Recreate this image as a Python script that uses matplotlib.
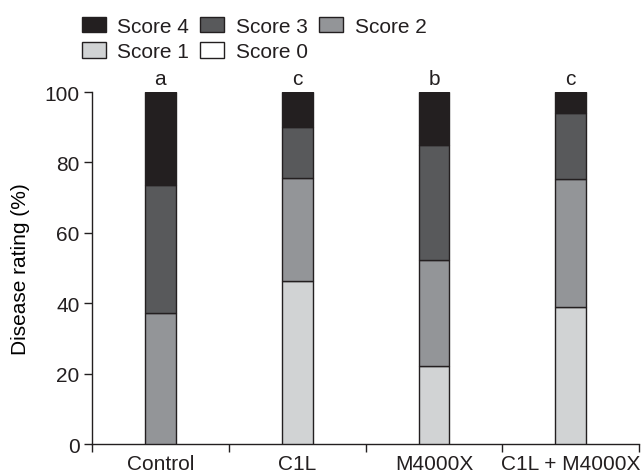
import matplotlib; matplotlib.use("Agg")
import matplotlib.pyplot as plt
from matplotlib.patches import Patch

# data (stacked % per score)
groups = ["Control", "C1L", "M4000X", "C1L + M4000X"]
score0 = [0.0, 0.0, 0.0, 0.0]
score1 = [0.0, 46.3, 22.2, 39.0]
score2 = [37.1, 29.3, 30.2, 36.3]
score3 = [36.5, 14.5, 32.5, 18.6]
score4 = [26.4, 9.9, 15.1, 6.1]
letters = ["a", "c", "b", "c"]

INK = "#231f20"
FS = 15
cols = {"Score 0": "white", "Score 1": "#d1d3d4", "Score 2": "#939598",
        "Score 3": "#58595b", "Score 4": "#231f20"}
plt.rcParams.update({"font.family": "Liberation Sans", "font.size": FS,
                     "text.color": INK, "axes.edgecolor": INK,
                     "xtick.color": INK, "ytick.color": INK})

fig = plt.figure(figsize=(6.43, 4.77), dpi=100)
ax = fig.add_axes([0.143, 0.067, 0.851, 0.738])

x = range(len(groups))
bottom = [0.0] * len(groups)
for name, vals in [("Score 0", score0), ("Score 1", score1), ("Score 2", score2),
                   ("Score 3", score3), ("Score 4", score4)]:
    ax.bar(x, vals, bottom=bottom, width=0.225, color=cols[name],
           edgecolor=INK, linewidth=1.0, zorder=3)
    bottom = [b + v for b, v in zip(bottom, vals)]

for i, t in enumerate(letters):
    ax.text(i, 101.0, t, ha="center", va="bottom", fontsize=FS)

ax.set_xlim(-0.5, 3.5)
ax.set_ylim(0, 100)
ax.set_yticks([0, 20, 40, 60, 80, 100])
ax.set_xticks(list(x))
ax.set_xticklabels(groups)
ax.set_xticks([-0.5, 0.5, 1.5, 2.5, 3.5], minor=True)
ax.tick_params(axis="x", which="major", length=0, pad=7)
ax.tick_params(axis="x", which="minor", length=6, width=1, direction="out")
ax.tick_params(axis="y", length=6, width=1, direction="out", pad=3)
ax.spines[["top", "right"]].set_visible(False)
ax.set_ylabel("Disease rating (%)", labelpad=10)
ax.spines["left"].set_linewidth(1)
ax.spines["bottom"].set_linewidth(1)

order = ["Score 4", "Score 1", "Score 3", "Score 0", "Score 2"]
handles = [Patch(facecolor=cols[n], edgecolor=INK, linewidth=1, label=n) for n in order]
fig.legend(handles=handles, ncol=3, loc="upper left", bbox_to_anchor=(0.127, 0.962),
           frameon=False, fontsize=FS, handlelength=1.15, handleheight=0.75,
           handletextpad=0.55, columnspacing=0.55, labelspacing=0.3, borderaxespad=0,
           borderpad=0)

fig.savefig("out.png", dpi=100)
